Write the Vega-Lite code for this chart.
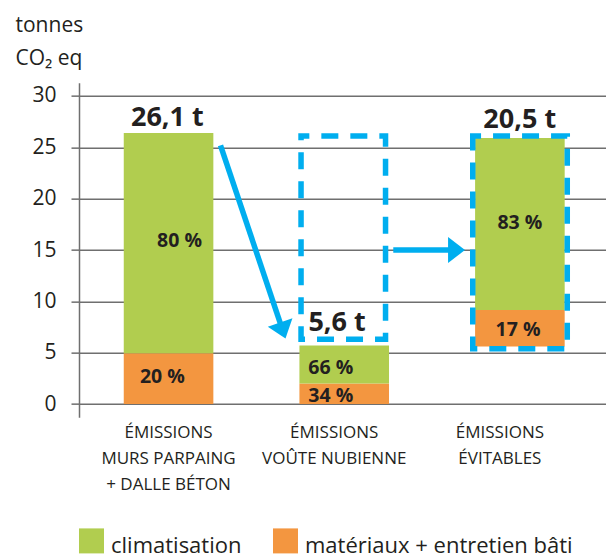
{
  "$schema": "https://vega.github.io/schema/vega-lite/v6.json",
  "width": 527,
  "height": 334.7,
  "autosize": "none",
  "padding": {"left": 79, "top": 82.65, "right": 0, "bottom": 140.65},
  "config": {
    "view": {"stroke": null},
    "font": "Open Sans",
    "text": {"font": "Open Sans", "color": "#231F20"}
  },
  "datasets": {
    "bars": [
      {"cat": "ÉMISSIONS|MURS PARPAING|+ DALLE BÉTON", "serie": "matériaux + entretien bâti", "y0": 0, "y1": 4.95},
      {"cat": "ÉMISSIONS|MURS PARPAING|+ DALLE BÉTON", "serie": "climatisation", "y0": 4.95, "y1": 26.4},
      {"cat": "ÉMISSIONS|VOÛTE NUBIENNE", "serie": "matériaux + entretien bâti", "y0": 0, "y1": 2.0},
      {"cat": "ÉMISSIONS|VOÛTE NUBIENNE", "serie": "climatisation", "y0": 2.0, "y1": 5.7},
      {"cat": "ÉMISSIONS|ÉVITABLES", "serie": "matériaux + entretien bâti", "y0": 5.6, "y1": 9.15},
      {"cat": "ÉMISSIONS|ÉVITABLES", "serie": "climatisation", "y0": 9.15, "y1": 25.9}
    ],
    "boxes": [
      {"x0": 1.264, "x1": 1.745, "y0": 6.3, "y1": 26.1},
      {"x0": 2.2415, "x1": 2.7795, "y0": 5.37, "y1": 26.1}
    ],
    "arrows": [
      {"id": "diag", "x": 0.8055, "y": 25.18, "xe": 1.15, "ye": 7.67, "xt": 1.1755, "yt": 6.38},
      {"id": "horiz", "x": 1.789, "y": 15.0, "xe": 2.118, "ye": 15.0, "xt": 2.1973, "yt": 15.0}
    ],
    "totals": [
      {"x": 0.503, "y": 27.87, "t": "26,1 t"},
      {"x": 1.469, "y": 7.91, "t": "5,6 t"},
      {"x": 2.509, "y": 27.63, "t": "20,5 t"}
    ],
    "parts": [
      {"x": 0.572, "y": 15.84, "t": "80 %"},
      {"x": 0.475, "y": 2.64, "t": "20 %"},
      {"x": 1.433, "y": 3.52, "t": "66 %"},
      {"x": 1.433, "y": 0.82, "t": "34 %"},
      {"x": 2.51, "y": 17.6, "t": "83 %"},
      {"x": 2.499, "y": 7.18, "t": "17 %"}
    ]
  },
  "layer": [
    {
      "data": {"name": "bars"},
      "mark": {"type": "bar"},
      "encoding": {
        "x": {
          "field": "cat", "type": "nominal", "sort": null,
          "scale": {"paddingInner": 0.49, "paddingOuter": 0.245, "align": 0.52},
          "axis": {
            "title": null, "domain": false, "ticks": false, "tickSize": 0, "grid": false,
            "labelAngle": 0, "labelExpr": "split(datum.value, '|')",
            "labelFont": "Open Sans", "labelFontSize": 17, "labelColor": "#231F20",
            "labelLineHeight": 26, "labelPadding": 7.5, "labelBaseline": "top", "labelLimit": 0,
            "labelOffset": {
              "condition": [
                {"test": "indexof(datum.value, 'VOÛTE') >= 0", "value": -10},
                {"test": "indexof(datum.value, 'ÉVITABLES') >= 0", "value": -20}
              ],
              "value": 0
            }
          }
        },
        "y": {
          "field": "y0", "type": "quantitative",
          "scale": {"domain": [-1.3, 31.3], "nice": false, "zero": false},
          "axis": {
            "values": [0, 5, 10, 15, 20, 25, 30],
            "grid": true, "gridColor": "#6f6f6f", "gridWidth": 1.5,
            "domainColor": "#6f6f6f", "domainWidth": 1.5,
            "tickColor": "#6f6f6f", "tickWidth": 1.5, "tickSize": 8,
            "labelFont": "Open Sans", "labelFontSize": 21, "labelColor": "#231F20", "labelPadding": 15,
            "title": ["tonnes", "CO₂ eq"], "titleAngle": 0, "titleAlign": "left", "titleBaseline": "alphabetic",
            "titleX": -64, "titleY": -51.6, "titleFont": "Open Sans", "titleFontSize": 21,
            "titleFontWeight": "normal", "titleColor": "#231F20", "titleLineHeight": 33
          }
        },
        "y2": {"field": "y1"},
        "color": {
          "field": "serie", "type": "nominal",
          "scale": {"domain": ["climatisation", "matériaux + entretien bâti"], "range": ["#B1CD4F", "#F39640"]},
          "legend": {
            "title": null, "orient": "none", "direction": "horizontal",
            "legendX": 0, "legendY": 458, "padding": 0,
            "symbolType": "M-1,-2H1V0H-1Z", "symbolSize": 625, "symbolStrokeWidth": 0, "symbolOpacity": 1,
            "labelFont": "Open Sans", "labelFontSize": 22, "labelColor": "#231F20", "labelBaseline": "alphabetic",
            "labelOffset": 7, "columnPadding": 31, "labelLimit": 0
          }
        }
      }
    },
    {
      "data": {"name": "boxes"},
      "mark": {"type": "rect", "fillOpacity": 0, "stroke": "#00AEEF", "strokeWidth": 5.5, "strokeDash": [17, 12], "strokeDashOffset": 8.7},
      "encoding": {
        "x": {"field": "x0", "type": "quantitative", "scale": {"domain": [0, 3], "nice": false, "zero": false}, "axis": null},
        "x2": {"field": "x1"},
        "y": {"field": "y0", "type": "quantitative", "scale": {"domain": [-1.3, 31.3], "nice": false, "zero": false}},
        "y2": {"field": "y1"}
      }
    },
    {
      "data": {"name": "arrows"},
      "mark": {"type": "rule", "color": "#00AEEF", "strokeWidth": 5.5, "strokeCap": "butt"},
      "encoding": {
        "x": {"field": "x", "type": "quantitative", "scale": {"domain": [0, 3], "nice": false, "zero": false}, "axis": null},
        "x2": {"field": "xe"},
        "y": {"field": "y", "type": "quantitative", "scale": {"domain": [-1.3, 31.3], "nice": false, "zero": false}},
        "y2": {"field": "ye"}
      }
    },
    {
      "data": {"name": "arrows"},
      "transform": [{"filter": "datum.id === 'diag'"}],
      "mark": {"type": "point", "shape": "M0,0L-1.3,-1L-1.3,1Z", "size": 676, "angle": 71.4, "filled": true, "color": "#00AEEF", "opacity": 1, "strokeWidth": 0},
      "encoding": {
        "x": {"field": "xt", "type": "quantitative", "scale": {"domain": [0, 3], "nice": false, "zero": false}, "axis": null},
        "y": {"field": "yt", "type": "quantitative", "scale": {"domain": [-1.3, 31.3], "nice": false, "zero": false}}
      }
    },
    {
      "data": {"name": "arrows"},
      "transform": [{"filter": "datum.id === 'horiz'"}],
      "mark": {"type": "point", "shape": "M0,0L-1.3,-1L-1.3,1Z", "size": 676, "angle": 0, "filled": true, "color": "#00AEEF", "opacity": 1, "strokeWidth": 0},
      "encoding": {
        "x": {"field": "xt", "type": "quantitative", "scale": {"domain": [0, 3], "nice": false, "zero": false}, "axis": null},
        "y": {"field": "yt", "type": "quantitative", "scale": {"domain": [-1.3, 31.3], "nice": false, "zero": false}}
      }
    },
    {
      "data": {"name": "totals"},
      "mark": {"type": "text", "font": "Open Sans", "fontWeight": "bold", "fontSize": 27, "color": "#231F20", "align": "center", "baseline": "middle"},
      "encoding": {
        "x": {"field": "x", "type": "quantitative", "scale": {"domain": [0, 3], "nice": false, "zero": false}, "axis": null},
        "y": {"field": "y", "type": "quantitative", "scale": {"domain": [-1.3, 31.3], "nice": false, "zero": false}},
        "text": {"field": "t", "type": "nominal"}
      }
    },
    {
      "data": {"name": "parts"},
      "mark": {"type": "text", "font": "Open Sans", "fontWeight": "bold", "fontSize": 19.5, "color": "#231F20", "align": "center", "baseline": "middle"},
      "encoding": {
        "x": {"field": "x", "type": "quantitative", "scale": {"domain": [0, 3], "nice": false, "zero": false}, "axis": null},
        "y": {"field": "y", "type": "quantitative", "scale": {"domain": [-1.3, 31.3], "nice": false, "zero": false}},
        "text": {"field": "t", "type": "nominal"}
      }
    }
  ],
  "resolve": {"scale": {"x": "independent"}}
}
